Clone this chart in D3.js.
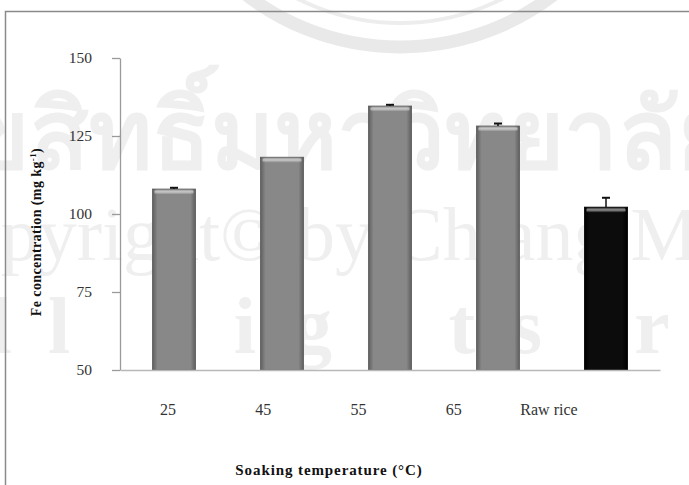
<!DOCTYPE html>
<html>
<head>
<meta charset="utf-8">
<script src="https://cdn.jsdelivr.net/npm/d3@7"></script>
<style>
  html, body { margin: 0; padding: 0; background: #fff; }
  svg { display: block; }
</style>
</head>
<body>
<div id="chart"></div>
<script>
// data
const categories = ['25', '45', '55', '65', 'Raw rice'];
const feValues = [108.0, 118.2, 134.6, 128.2, 102.2];
const feErrors = [0.4, 0.0, 0.4, 0.8, 3.0];
const yTicks = [50, 75, 100, 125, 150];

const width = 689, height = 485;
const margin = { top: 58, right: 29, bottom: 115, left: 120 };

const svg = d3.select('#chart').append('svg')
  .attr('width', width)
  .attr('height', height);

// faint watermark behind the chart
const wm = svg.append('g').attr('fill', '#efefef').attr('stroke', 'none')
  .style('font-family', "'Liberation Serif', serif");
wm.append('circle').attr('cx', 400).attr('cy', -205).attr('r', 252)
  .attr('fill', 'none').attr('stroke', '#e9e9e9').attr('stroke-width', 13);
wm.append('circle').attr('cx', 400).attr('cy', -205).attr('r', 228)
  .attr('fill', 'none').attr('stroke', '#ededed').attr('stroke-width', 4);
wm.append('text').attr('x', -95).attr('y', 168)
  .style('font-size', '96px').style('font-weight', 'bold')
  .text('ลิขสิทธิ์มหาวิทยาลัยเชียงใหม่');
wm.append('text').attr('x', -88).attr('y', 260)
  .style('font-size', '76px')
  .text('Copyright© by Chiang Mai University');
wm.append('text').attr('x', -104).attr('y', 353).attr('letter-spacing', 36)
  .style('font-size', '80px').style('font-weight', 'bold')
  .text('All rights reserved');

// outer frame
svg.append('rect')
  .attr('x', 5.5).attr('y', 11.5)
  .attr('width', 720).attr('height', 520)
  .attr('fill', 'none').attr('stroke', '#8a8a8a').attr('stroke-width', 1.5);

const x = d3.scaleBand()
  .domain(categories)
  .range([margin.left, width - margin.right])
  .paddingInner(0.6).paddingOuter(0.3);

const y = d3.scaleLinear()
  .domain([50, 150])
  .range([height - margin.bottom, margin.top]);

// labels are set a bit left of the bars, as in the original figure
const xLabel = d3.scalePoint()
  .domain(categories)
  .range([168, 549]);

const defs = svg.append('defs');
function barGradient(id, edge, mid) {
  const g = defs.append('linearGradient').attr('id', id)
    .attr('x1', '0%').attr('x2', '100%').attr('y1', '0%').attr('y2', '0%');
  g.append('stop').attr('offset', '0%').attr('stop-color', edge);
  g.append('stop').attr('offset', '12%').attr('stop-color', mid);
  g.append('stop').attr('offset', '88%').attr('stop-color', mid);
  g.append('stop').attr('offset', '100%').attr('stop-color', edge);
}
barGradient('barGrey', '#5e5e5e', '#888888');
barGradient('barBlack', '#000000', '#0c0c0c');
const hl = defs.append('linearGradient').attr('id', 'topShine')
  .attr('x1', '0%').attr('x2', '0%').attr('y1', '0%').attr('y2', '100%');
hl.append('stop').attr('offset', '0%').attr('stop-color', '#ffffff').attr('stop-opacity', 0.15);
hl.append('stop').attr('offset', '45%').attr('stop-color', '#ffffff').attr('stop-opacity', 0.55);
hl.append('stop').attr('offset', '100%').attr('stop-color', '#ffffff').attr('stop-opacity', 0);

const data = categories.map((c, i) => ({ cat: c, value: feValues[i], err: feErrors[i] }));

// y axis
svg.append('g')
  .attr('transform', `translate(${margin.left},0)`)
  .call(d3.axisLeft(y).tickValues(yTicks).tickSize(8).tickPadding(20).tickSizeOuter(0))
  .call(g => g.select('.domain').attr('stroke', '#9a9a9a').attr('stroke-width', 1.3))
  .call(g => g.selectAll('.tick line').attr('stroke', '#9a9a9a').attr('stroke-width', 1.3))
  .call(g => g.selectAll('.tick text')
    .attr('fill', '#333')
    .style('font-family', "'Liberation Serif', serif")
    .style('font-size', '15.5px'));

// bars
const bars = svg.append('g').selectAll('g.bar')
  .data(data)
  .enter().append('g').attr('class', 'bar');

bars.append('rect')
  .attr('x', d => x(d.cat))
  .attr('y', d => y(d.value))
  .attr('width', x.bandwidth())
  .attr('height', d => y(50) - y(d.value))
  .attr('fill', d => d.cat === 'Raw rice' ? 'url(#barBlack)' : 'url(#barGrey)')
  .attr('stroke', d => d.cat === 'Raw rice' ? '#000' : '#5a5a5a')
  .attr('stroke-width', 0.8);

bars.append('rect')
  .attr('x', d => x(d.cat) + 2)
  .attr('y', d => y(d.value) + 0.5)
  .attr('width', x.bandwidth() - 4)
  .attr('height', 5)
  .attr('rx', 2)
  .attr('fill', 'url(#topShine)');

// error bars (upper half only)
const errs = bars.filter(d => d.err > 0);
errs.append('line')
  .attr('x1', d => x(d.cat) + x.bandwidth() / 2)
  .attr('x2', d => x(d.cat) + x.bandwidth() / 2)
  .attr('y1', d => y(d.value))
  .attr('y2', d => y(d.value + d.err))
  .attr('stroke', '#111').attr('stroke-width', 1.5);
errs.append('line')
  .attr('x1', d => x(d.cat) + x.bandwidth() / 2 - 4)
  .attr('x2', d => x(d.cat) + x.bandwidth() / 2 + 4)
  .attr('y1', d => y(d.value + d.err))
  .attr('y2', d => y(d.value + d.err))
  .attr('stroke', '#111').attr('stroke-width', 2);

// x axis line
svg.append('g')
  .attr('transform', `translate(0,${y(50)})`)
  .call(d3.axisBottom(x).tickSize(0).tickSizeOuter(0).tickFormat(''))
  .call(g => g.select('.domain').attr('stroke', '#b8b8b8').attr('stroke-width', 1.3));

// x tick labels
svg.append('g').selectAll('text')
  .data(categories)
  .enter().append('text')
  .attr('x', d => xLabel(d))
  .attr('y', 415)
  .attr('text-anchor', 'middle')
  .attr('fill', '#333')
  .style('font-family', "'Liberation Serif', serif")
  .style('font-size', '16px')
  .text(d => d);

// axis titles
svg.append('text')
  .attr('x', 329).attr('y', 475)
  .attr('text-anchor', 'middle')
  .attr('fill', '#111')
  .attr('letter-spacing', 0.9)
  .style('font-family', "'Liberation Serif', serif")
  .style('font-size', '15px').style('font-weight', 'bold')
  .text('Soaking temperature (°C)');

const yTitle = svg.append('text')
  .attr('transform', 'translate(41,232) rotate(-90)')
  .attr('text-anchor', 'middle')
  .attr('fill', '#111')
  .attr('letter-spacing', 0.4)
  .style('font-family', "'Liberation Serif', serif")
  .style('font-size', '14px').style('font-weight', 'bold');
yTitle.append('tspan').text('Fe concentration (mg kg');
yTitle.append('tspan').attr('dy', -5).style('font-size', '9px').text('-1');
yTitle.append('tspan').attr('dy', 5).text(')');
</script>
</body>
</html>
